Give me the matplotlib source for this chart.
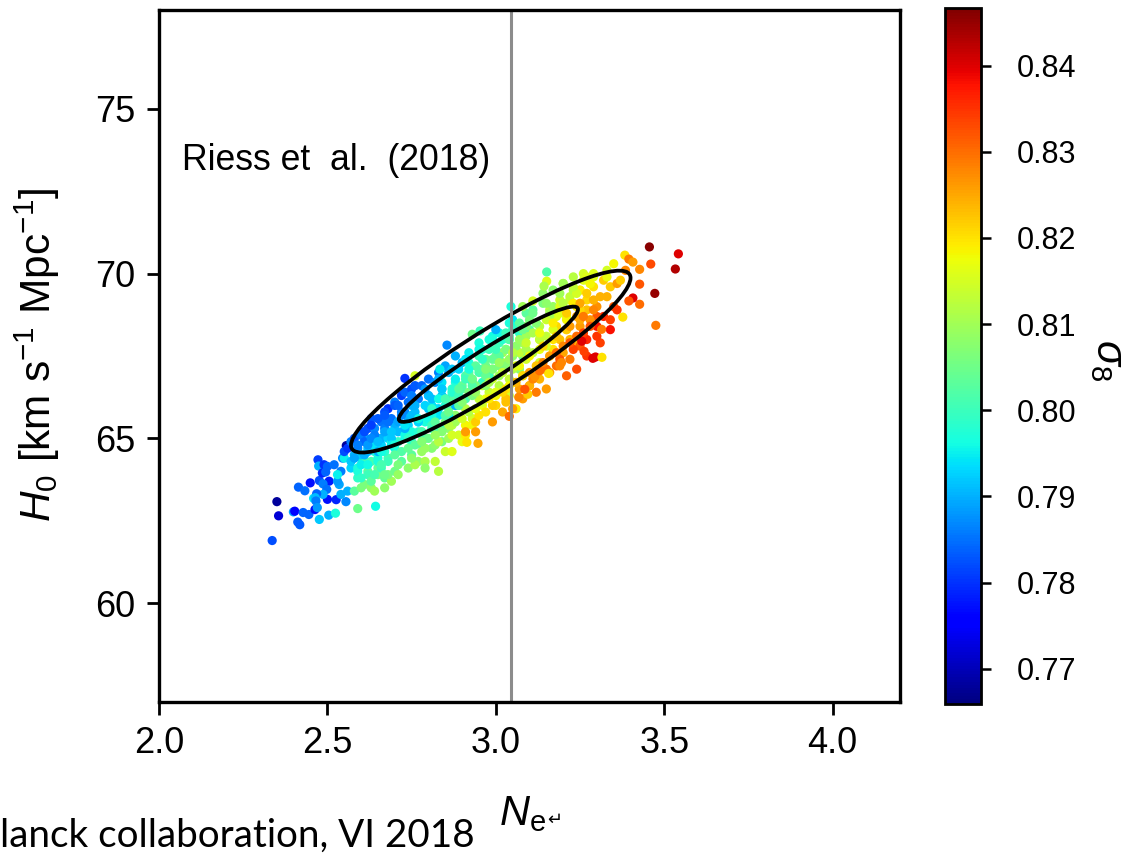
import matplotlib
matplotlib.use('Agg')
import matplotlib.pyplot as plt
from matplotlib.patches import Ellipse
from matplotlib.transforms import Affine2D

plt.rcParams['font.family'] = ['Liberation Sans', 'DejaVu Sans']
plt.rcParams['mathtext.fontset'] = 'custom'
plt.rcParams['mathtext.rm'] = 'Liberation Sans'
plt.rcParams['mathtext.it'] = 'Liberation Sans:italic'

# values, ten points per row
neff = [
    2.336, 2.35, 2.355, 2.399, 2.403, 2.412, 2.418, 2.414, 2.433, 2.428,
    2.445, 2.463, 2.459, 2.476, 2.504, 2.524, 2.5, 2.526, 2.555, 2.59,
    2.643, 2.449, 2.476, 2.472, 2.474, 2.49, 2.5, 2.485, 2.495, 2.505,
    2.487, 2.498, 2.487, 2.468, 2.464, 2.466, 2.47, 2.545, 2.556, 2.535,
    2.54, 2.55, 2.53, 2.56, 2.55, 2.52, 2.54, 2.56, 2.57, 2.53,
    2.58, 2.59, 2.57, 2.60, 2.58, 2.59, 2.57, 2.60, 2.58, 2.59,
    2.61, 2.62, 2.60, 2.63, 2.61, 2.62, 2.60, 2.63, 2.61, 2.62,
    2.64, 2.65, 2.63, 2.64, 2.65, 2.64, 2.63, 2.65, 2.64, 2.66,
    2.66, 2.67, 2.65, 2.66, 2.67, 2.66, 2.68, 2.65, 2.67, 2.66,
    3.30, 3.29, 3.31, 3.30, 3.32, 3.29, 3.30, 3.31, 3.32, 3.30,
    2.68, 2.69, 2.67, 2.68, 2.70, 2.69, 2.68, 2.70, 2.67, 2.69,
    2.70, 2.71, 2.72, 2.70, 2.71, 2.72, 2.71, 2.70, 2.72, 2.71,
    3.12, 3.11, 3.13, 3.12, 3.10, 3.13, 3.11, 3.12, 3.14, 3.10,
    2.74, 2.73, 2.75, 2.74, 2.73, 2.75, 2.74, 2.73, 2.75, 2.74,
    2.76, 2.77, 2.75, 2.76, 2.78, 2.77, 2.76, 2.75, 2.77, 2.78,
    3.34, 3.33, 3.35, 3.34, 3.36, 3.33, 3.35, 3.36, 3.34, 3.33,
    2.79, 2.80, 2.78, 2.79, 2.81, 2.80, 2.79, 2.78, 2.80, 2.81,
    2.82, 2.83, 2.81, 2.82, 2.84, 2.83, 2.82, 2.81, 2.83, 2.84,
    3.18, 3.17, 3.19, 3.18, 3.16, 3.19, 3.17, 3.18, 3.20, 3.16,
    2.85, 2.86, 2.84, 2.85, 2.87, 2.86, 2.85, 2.84, 2.86, 2.87,
    2.88, 2.89, 2.87, 2.88, 2.90, 2.89, 2.88, 2.87, 2.89, 2.90,
    3.06, 3.05, 3.07, 3.06, 3.04, 3.07, 3.05, 3.06, 3.08, 3.04,
    2.91, 2.92, 2.90, 2.91, 2.93, 2.92, 2.91, 2.90, 2.92, 2.93,
    3.24, 3.23, 3.25, 3.24, 3.22, 3.25, 3.23, 3.24, 3.26, 3.22,
    2.94, 2.95, 2.93, 2.94, 2.96, 2.95, 2.94, 2.93, 2.95, 2.96,
    2.97, 2.98, 2.96, 2.97, 2.99, 2.98, 2.97, 2.96, 2.98, 2.99,
    3.15, 3.14, 3.16, 3.15, 3.13, 3.16, 3.14, 3.15, 3.17, 3.13,
    3.00, 3.01, 2.99, 3.00, 3.02, 3.01, 3.00, 2.99, 3.01, 3.02,
    3.03, 3.04, 3.02, 3.03, 3.05, 3.04, 3.03, 3.02, 3.04, 3.05,
    3.27, 3.26, 3.28, 3.27, 3.25, 3.28, 3.26, 3.27, 3.29, 3.25,
    3.08, 3.09, 3.07, 3.08, 3.10, 3.09, 3.08, 3.07, 3.09, 3.10,
    3.21, 3.20, 3.22, 3.21, 3.19, 3.22, 3.20, 3.21, 3.23, 3.19,
    2.80, 2.85, 2.90, 2.95, 3.00, 2.82, 2.87, 2.92, 2.97, 3.02,
    2.84, 2.88, 2.93, 2.98, 3.03, 2.86, 2.91, 2.96, 3.01, 3.06,
    2.78, 2.83, 2.89, 2.94, 2.99, 2.81, 2.86, 2.92, 2.97, 3.04,
    2.59, 2.61, 2.60, 2.62, 2.58, 2.61, 2.60, 2.59, 2.62, 2.60,
    2.62, 2.64, 2.63, 2.65, 2.61, 2.64, 2.63, 2.62, 2.65, 2.63,
    2.66, 2.68, 2.67, 2.69, 2.65, 2.68, 2.67, 2.66, 2.69, 2.67,
    2.70, 2.72, 2.71, 2.73, 2.69, 2.72, 2.71, 2.70, 2.73, 2.71,
    2.74, 2.76, 2.75, 2.77, 2.73, 2.76, 2.75, 2.74, 2.77, 2.75,
    2.78, 2.80, 2.79, 2.81, 2.77, 2.80, 2.79, 2.78, 2.81, 2.79,
    2.82, 2.84, 2.83, 2.85, 2.81, 2.84, 2.83, 2.82, 2.85, 2.83,
    2.86, 2.88, 2.87, 2.89, 2.85, 2.88, 2.87, 2.86, 2.89, 2.87,
    2.90, 2.92, 2.91, 2.93, 2.89, 2.92, 2.91, 2.90, 2.93, 2.91,
    2.94, 2.96, 2.95, 2.97, 2.93, 2.96, 2.95, 2.94, 2.97, 2.95,
    2.98, 3.00, 2.99, 3.01, 2.97, 3.00, 2.99, 2.98, 3.01, 2.99,
    3.02, 3.04, 3.03, 3.05, 3.01, 3.04, 3.03, 3.02, 3.05, 3.03,
    3.06, 3.08, 3.07, 3.09, 3.05, 3.08, 3.07, 3.06, 3.09, 3.07,
    3.10, 3.12, 3.11, 3.13, 3.09, 3.12, 3.11, 3.10, 3.13, 3.11,
    3.14, 3.16, 3.15, 3.17, 3.13, 3.16, 3.15, 3.14, 3.17, 3.15,
    3.18, 3.20, 3.19, 3.21, 3.17, 3.20, 3.19, 3.18, 3.21, 3.19,
    3.22, 3.24, 3.23, 3.25, 3.21, 3.24, 3.23, 3.22, 3.25, 3.23,
    3.26, 3.28, 3.27, 3.29, 3.25, 3.28, 3.27, 3.26, 3.29, 3.27,
    2.855, 2.73, 2.76, 2.834, 2.93, 2.953, 3.0, 3.045, 3.08, 3.11,
    3.456, 3.542, 3.533, 3.46, 3.427, 3.472, 3.475, 3.377, 3.427, 3.427,
    3.407, 3.395, 3.383, 3.395, 3.407, 3.151, 3.151, 3.143, 3.288, 3.296,
    3.315, 3.262, 3.255, 3.314, 3.195, 3.157, 3.116, 3.13, 2.914, 2.947,
    3.04, 3.068, 3.095, 3.086, 2.83, 2.79, 2.87, 2.91, 3.385, 3.37,
]
h0 = [
    61.9, 63.08, 62.65, 62.77, 62.79, 62.46, 62.38, 63.52, 63.41, 62.75,
    62.69, 62.84, 63.18, 62.54, 62.67, 62.73, 63.15, 63.14, 63.08, 62.87,
    62.94, 63.65, 63.72, 64.35, 64.16, 64.2, 64.15, 63.95, 63.98, 63.7,
    63.62, 63.45, 63.3, 63.32, 63.2, 63.1, 62.9, 64.4, 64.78, 63.6,
    64.0, 64.4, 63.7, 63.4, 64.6, 64.2, 63.3, 64.7, 64.1, 63.9,
    63.4, 63.8, 64.9, 65.2, 64.5, 64.1, 64.3, 63.5, 65.0, 64.7,
    63.6, 64.0, 64.4, 65.4, 65.0, 64.7, 65.1, 63.5, 64.3, 65.3,
    63.4, 63.9, 64.3, 64.6, 65.0, 65.3, 65.6, 64.1, 64.8, 65.5,
    64.2, 63.5, 65.6, 64.8, 63.8, 65.0, 65.9, 64.4, 65.3, 64.1,
    68.4, 69.6, 67.9, 69.0, 68.7, 70.0, 68.1, 69.3, 69.8, 68.7,
    65.0, 63.7, 65.8, 64.4, 66.1, 64.9, 63.9, 65.4, 64.6, 65.6,
    64.0, 65.2, 66.3, 64.7, 63.9, 65.8, 65.5, 66.0, 64.3, 64.9,
    66.4, 68.9, 67.3, 66.9, 68.3, 68.0, 67.6, 68.5, 69.1, 66.6,
    64.1, 66.4, 64.9, 65.4, 65.8, 64.5, 66.1, 65.1, 66.5, 65.6,
    66.6, 64.3, 65.2, 65.8, 64.8, 66.2, 64.2, 66.0, 65.5, 65.1,
    68.6, 70.1, 69.0, 69.6, 68.9, 69.3, 70.3, 69.7, 68.3, 69.9,
    64.3, 65.9, 66.6, 65.0, 64.7, 66.3, 65.5, 64.6, 66.8, 65.3,
    64.3, 67.0, 65.6, 64.8, 66.3, 65.2, 66.7, 66.0, 65.9, 64.9,
    67.2, 69.5, 68.0, 68.7, 67.0, 69.2, 67.7, 68.4, 69.7, 68.9,
    67.2, 65.0, 66.5, 64.6, 66.0, 67.0, 65.5, 66.7, 65.3, 66.2,
    67.5, 65.1, 66.3, 65.7, 64.9, 67.1, 66.7, 65.4, 66.0, 67.3,
    65.9, 68.6, 67.1, 67.7, 66.3, 68.2, 66.7, 68.4, 67.5, 68.0,
    65.1, 67.6, 66.2, 66.9, 65.6, 67.3, 65.9, 66.6, 67.0, 65.4,
    67.1, 69.9, 68.4, 69.0, 67.4, 69.5, 67.9, 68.7, 69.8, 69.2,
    65.5, 67.9, 66.4, 67.2, 66.0, 67.5, 65.2, 66.8, 66.2, 67.7,
    65.8, 68.0, 66.6, 67.4, 65.5, 67.7, 66.2, 67.0, 66.4, 68.1,
    66.5, 69.4, 67.5, 68.1, 66.8, 68.7, 67.1, 67.8, 69.0, 68.4,
    66.0, 68.2, 66.8, 67.5, 65.8, 67.9, 66.3, 67.1, 66.6, 68.0,
    66.1, 68.5, 67.0, 67.7, 65.9, 68.1, 66.5, 67.3, 66.8, 68.3,
    67.5, 70.0, 68.6, 69.2, 67.8, 69.7, 68.1, 68.9, 69.9, 69.5,
    66.2, 68.8, 67.2, 67.9, 66.6, 68.4, 66.9, 67.6, 68.1, 68.6,
    66.9, 69.7, 68.0, 68.7, 67.2, 69.3, 67.6, 68.3, 69.5, 69.0,
    65.6, 66.2, 66.5, 67.0, 67.4, 65.9, 66.4, 66.9, 67.2, 67.6,
    65.3, 66.0, 66.7, 66.9, 67.2, 65.7, 66.2, 66.7, 67.5, 67.8,
    65.2, 65.7, 66.1, 66.6, 67.1, 66.2, 66.1, 66.4, 66.9, 67.4,
    64.0, 64.9, 64.5, 63.9, 64.4, 65.2, 63.8, 64.8, 64.6, 64.2,
    64.2, 65.1, 63.7, 64.6, 64.5, 63.9, 65.4, 64.8, 64.3, 65.0,
    64.6, 65.5, 63.9, 65.0, 64.9, 64.3, 65.7, 64.2, 64.8, 65.2,
    64.8, 65.7, 64.2, 65.3, 65.2, 64.6, 66.0, 64.5, 65.0, 65.5,
    65.0, 66.0, 64.4, 65.5, 65.4, 64.8, 66.3, 64.7, 65.2, 65.7,
    65.2, 66.3, 64.7, 65.7, 65.6, 65.0, 66.5, 64.9, 65.4, 66.0,
    65.5, 66.5, 64.9, 66.0, 65.9, 65.2, 66.8, 65.1, 65.7, 66.2,
    65.8, 66.8, 65.1, 66.3, 66.2, 65.5, 67.1, 65.4, 66.0, 66.5,
    66.1, 67.1, 65.4, 66.6, 66.5, 65.8, 67.4, 65.6, 66.3, 66.8,
    66.4, 67.4, 65.7, 66.9, 66.8, 66.1, 67.7, 65.9, 66.6, 67.1,
    66.7, 67.7, 66.0, 67.2, 67.1, 66.4, 68.0, 66.2, 66.9, 67.4,
    67.0, 68.0, 66.2, 67.5, 67.3, 66.6, 68.2, 66.4, 67.1, 67.7,
    67.2, 68.3, 66.5, 67.7, 67.6, 66.9, 68.5, 66.7, 67.4, 68.0,
    67.5, 68.5, 66.8, 68.0, 67.9, 67.2, 68.8, 67.0, 67.7, 68.2,
    67.8, 68.8, 67.1, 68.3, 68.2, 67.5, 69.1, 67.3, 68.0, 68.6,
    68.1, 69.1, 67.4, 68.6, 68.5, 67.8, 69.4, 67.6, 68.3, 68.8,
    68.4, 69.4, 67.7, 68.9, 68.8, 68.1, 69.6, 67.9, 68.6, 69.1,
    68.7, 69.7, 68.0, 69.2, 69.1, 68.4, 69.9, 68.2, 68.9, 69.4,
    67.83, 66.82, 66.9, 67.1, 68.16, 68.26, 68.3, 69.0, 69.0, 69.17,
    70.81, 70.6, 70.14, 70.29, 70.13, 69.4, 68.43, 68.68, 69.07, 69.68,
    69.26, 69.17, 70.56, 70.44, 70.35, 70.05, 69.77, 69.62, 67.43, 67.47,
    67.46, 67.64, 67.95, 68.31, 67.3, 66.97, 66.88, 67.05, 64.88, 64.85,
    65.67, 66.25, 66.34, 66.49, 64.0, 64.1, 64.6, 65.2, 70.1, 69.8,
]
sigma8 = [
    .782, .768, .772, .789, .776, .783, .783, .784, .785, .784,
    .784, .777, .794, .792, .79, .797, .777, .779, .787, .805,
    .796, .777, .782, .781, .79, .78, .784, .779, .784, .778,
    .786, .785, .79, .784, .791, .786, .788, .787, .768, .789,
    .786, .795, .788, .79, .782, .785, .79, .78, .793, .795,
    .803, .799, .786, .78, .79, .797, .792, .806, .783, .787,
    .806, .803, .795, .785, .789, .792, .786, .808, .8, .782,
    .81, .806, .801, .797, .792, .787, .783, .804, .794, .785,
    .799, .808, .783, .793, .804, .79, .78, .797, .786, .8,
    .838, .82, .834, .827, .836, .816, .835, .824, .822, .832,
    .793, .81, .782, .801, .786, .797, .806, .79, .798, .785,
    .805, .791, .781, .796, .809, .786, .792, .783, .803, .799,
    .829, .803, .815, .822, .802, .818, .812, .808, .806, .826,
    .808, .784, .798, .793, .787, .803, .785, .796, .782, .79,
    .783, .808, .797, .791, .802, .786, .811, .79, .795, .8,
    .834, .815, .832, .822, .835, .824, .818, .826, .838, .817,
    .811, .792, .784, .802, .807, .789, .797, .809, .785, .799,
    .813, .786, .797, .808, .792, .801, .787, .794, .793, .806,
    .83, .808, .823, .816, .826, .814, .82, .821, .813, .812,
    .789, .81, .797, .814, .803, .79, .806, .794, .808, .799,
    .79, .815, .802, .808, .817, .793, .797, .812, .805, .791,
    .819, .794, .808, .801, .815, .799, .812, .797, .805, .8,
    .819, .795, .809, .801, .815, .797, .812, .804, .803, .818,
    .833, .812, .826, .819, .829, .817, .824, .825, .816, .815,
    .822, .797, .814, .803, .817, .8, .826, .808, .813, .798,
    .82, .797, .813, .804, .826, .8, .817, .807, .814, .796,
    .826, .808, .818, .813, .824, .811, .822, .815, .809, .812,
    .821, .796, .814, .804, .825, .8, .818, .808, .812, .798,
    .823, .797, .814, .806, .826, .802, .82, .81, .813, .799,
    .835, .815, .827, .821, .832, .817, .829, .823, .816, .819,
    .826, .803, .818, .811, .824, .807, .821, .813, .81, .806,
    .831, .81, .824, .817, .828, .813, .825, .82, .812, .816,
    .796, .792, .802, .801, .8, .794, .798, .803, .805, .81,
    .801, .79, .796, .8, .807, .795, .801, .799, .803, .808,
    .803, .794, .799, .806, .806, .791, .803, .806, .8, .809,
    .797, .784, .792, .8, .789, .782, .799, .786, .791, .795,
    .796, .786, .803, .79, .79, .801, .781, .788, .797, .787,
    .796, .785, .805, .792, .791, .8, .783, .801, .795, .789,
    .797, .787, .806, .79, .792, .802, .784, .803, .796, .789,
    .799, .79, .808, .793, .794, .803, .786, .804, .798, .791,
    .801, .791, .809, .796, .796, .805, .788, .807, .8, .793,
    .803, .792, .812, .798, .799, .807, .79, .809, .802, .796,
    .805, .795, .815, .8, .801, .81, .792, .812, .803, .798,
    .807, .797, .818, .802, .803, .812, .794, .815, .806, .8,
    .809, .799, .82, .804, .805, .814, .796, .817, .808, .802,
    .811, .8, .822, .806, .807, .816, .797, .819, .81, .804,
    .813, .802, .823, .808, .809, .818, .8, .821, .812, .806,
    .816, .805, .826, .811, .812, .821, .803, .824, .815, .809,
    .818, .807, .828, .813, .814, .823, .805, .826, .817, .811,
    .821, .81, .83, .816, .817, .826, .808, .828, .82, .814,
    .823, .812, .832, .818, .819, .828, .81, .83, .822, .816,
    .826, .815, .834, .821, .822, .83, .813, .832, .825, .819,
    .829, .818, .836, .824, .825, .832, .816, .834, .828, .822,
    .787, .78, .815, .795, .805, .8, .79, .797, .81, .815,
    .846, .84, .843, .833, .828, .845, .829, .82, .83, .832,
    .84, .832, .82, .829, .826, .802, .816, .811, .84, .84,
    .82, .834, .84, .829, .828, .82, .827, .83, .82, .825,
    .83, .828, .822, .832, .812, .808, .816, .826, .828, .822,
]

# contours: centre, width, height, correlation
contour_x0 = [2.985, 2.978]
contour_y0 = [67.33, 67.25]
contour_sx = [0.415, 0.266]
contour_sy = [2.76, 1.75]
contour_rho = [0.92, 0.95]

xticks = [2.0, 2.5, 3.0, 3.5, 4.0]
yticks = [60, 65, 70, 75]
cticks = [0.77, 0.78, 0.79, 0.80, 0.81, 0.82, 0.83, 0.84]

W, H = 1127, 858
fig = plt.figure(figsize=(W / 100, H / 100), dpi=100)
ax = fig.add_axes([159 / W, (H - 702) / H, 741 / W, 692 / H])
cax = fig.add_axes([945 / W, (H - 704) / H, 36 / W, 696 / H])

sc = ax.scatter(neff, h0, c=sigma8, cmap='jet', vmin=0.7659, vmax=0.8467, s=44, linewidths=0)
ax.axvline(3.045, color='#8c8c8c', lw=2.2)

for x0, y0, sx, sy, rho in zip(contour_x0, contour_y0, contour_sx, contour_sy, contour_rho):
    skew = Affine2D.from_values(sx, sy * rho, 0, sy * (1 - rho ** 2) ** 0.5, x0, y0)
    ax.add_patch(Ellipse((0, 0), 2, 2, fill=False, ec='black', lw=2.7, transform=skew + ax.transData))

ax.set_xlim(2.0, 4.2)
ax.set_ylim(57, 78)
ax.set_xticks(xticks)
ax.set_xticklabels(['2.0', '2.5', '3.0', '3.5', '4.0'])
ax.set_yticks(yticks)
ax.tick_params(length=9, width=2, labelsize=26, pad=8)
for sp in ax.spines.values():
    sp.set_linewidth(2.4)

fig.text(182 / W, 1 - 161 / H, 'Riess et  al.  (2018)', fontsize=25.7, va='center', ha='left')
fig.text(499 / W, 1 - 814 / H, r'$N_{\mathrm{e}}$', fontsize=30, va='center', ha='left')
fig.text(555 / W, 1 - 820 / H, '↵', fontsize=13, va='center', ha='center', family='DejaVu Sans')
fig.text(37 / W, 1 - 355 / H, r'$H_0$ [km s$^{-1}$ Mpc$^{-1}$]', fontsize=30.5, rotation=90,
         va='center', ha='center')
fig.text(0, 1 - 836 / H, 'lanck collaboration, VI 2018', fontsize=27.8, va='center', ha='left', family='Lato')

cb = fig.colorbar(sc, cax=cax)
cb.set_ticks(cticks)
cb.set_ticklabels(['0.77', '0.78', '0.79', '0.80', '0.81', '0.82', '0.83', '0.84'])
cax.tick_params(length=7, width=1.8, labelsize=22, pad=19)
cb.outline.set_linewidth(2)
fig.text(1108 / W, 1 - 360 / H, r'$\sigma_8$', fontsize=30, rotation=270, va='center', ha='center')

fig.savefig('out.png', dpi=100)
